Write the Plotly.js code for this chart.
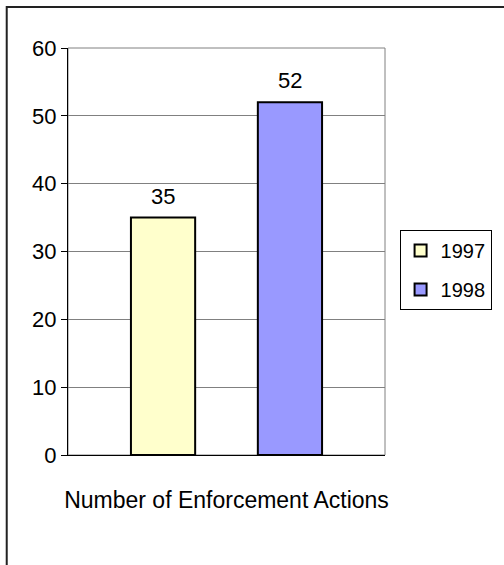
<!DOCTYPE html>
<html>
<head>
<meta charset="utf-8">
<script src="https://cdn.plot.ly/plotly-3.0.1.min.js"></script>
<style>
  html, body { margin: 0; padding: 0; background: #fff; }
  #chart { width: 504px; height: 565px; }
</style>
</head>
<body>
<div id="chart"></div>
<script>
// ---- data ----
const years = ['1997', '1998'];
const values = [35, 52];
const colors = ['#FFFFCC', '#9999FF'];
const xTitle = 'Number of Enforcement Actions';
const yTicks = [0, 10, 20, 30, 40, 50, 60];

const FONT = '"Liberation Sans", Arial, sans-serif';

const traces = years.map((yr, i) => ({
  type: 'bar',
  name: yr,
  x: [yr],
  y: [values[i]],
  width: 0.506,
  legendgroup: yr,
  marker: { color: colors[i], line: { color: '#000', width: 2 } },
  hoverinfo: 'skip'
}));

// value labels above each bar (x = category index of that year)
const annotations = years.map((yr, i) => ({
  x: years.indexOf(yr), y: values[i], xref: 'x', yref: 'y',
  text: String(values[i]), showarrow: false,
  xanchor: 'center', yanchor: 'bottom', yshift: 7,
  font: { family: FONT, size: 22, color: '#000' }
}));

const layout = {
  width: 504, height: 565,
  margin: { l: 68, r: 110, t: 48, b: 110 },
  paper_bgcolor: '#fff', plot_bgcolor: '#fff',
  font: { family: FONT, size: 22, color: '#000' },
  barmode: 'overlay',
  showlegend: true,
  legend: {
    x: 1.046, y: 0.553, xanchor: 'left', yanchor: 'top',
    bordercolor: '#000', borderwidth: 1, bgcolor: '#fff',
    font: { family: FONT, size: 20, color: '#000' },
    tracegroupgap: 10
  },
  xaxis: {
    type: 'category', categoryorder: 'array', categoryarray: years,
    range: [-0.749, 1.749],
    showticklabels: false, ticks: '',
    showline: true, linecolor: '#000', linewidth: 1,
    showgrid: false, zeroline: false,
    title: { text: xTitle, standoff: 36, font: { family: FONT, size: 23, color: '#000' } },
    automargin: false, fixedrange: true
  },
  yaxis: {
    range: [0, 60], tickvals: yTicks,
    ticks: 'outside', ticklen: 6, tickcolor: '#000', tickwidth: 1,
    showline: true, linecolor: '#000', linewidth: 1,
    showgrid: true, gridcolor: '#808080', gridwidth: 1,
    zeroline: false, automargin: false, fixedrange: true,
    tickfont: { family: FONT, size: 22, color: '#000' }
  },
  annotations: annotations,
  shapes: [
    { type: 'rect', xref: 'paper', yref: 'paper', x0: 0, x1: 1, y0: 0, y1: 1,
      line: { color: '#808080', width: 1 }, layer: 'below' },
    { type: 'rect', xref: 'paper', yref: 'paper', x0: -0.1933, x1: 1.4, y0: -0.3, y1: 1.1007,
      line: { color: '#222', width: 2 }, layer: 'below' }
  ]
};

Plotly.newPlot('chart', traces, layout, { staticPlot: true, displayModeBar: false });
</script>
</body>
</html>
